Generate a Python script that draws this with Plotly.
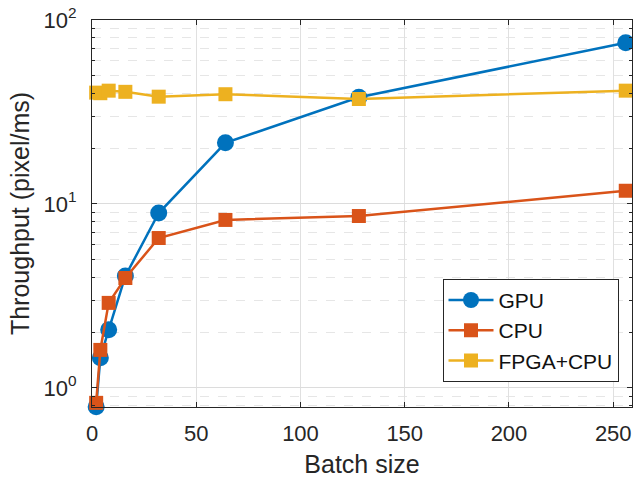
import plotly.graph_objects as go

batch = [2, 4, 8, 16, 32, 64, 128, 256]
gpu = [0.79, 1.46, 2.07, 4.06, 8.93, 21.5, 38.0, 75.3]
cpu = [0.83, 1.61, 2.90, 3.96, 6.53, 8.19, 8.6, 11.8]
fpga = [40.3, 40.0, 41.3, 40.7, 38.3, 39.5, 37.2, 41.3]

x_ticks = [0, 50, 100, 150, 200, 250]
y_ticks = [1, 10, 100]
y_ticktext = ["10<sup>0</sup>", "10<sup>1</sup>", "10<sup>2</sup>"]
y_minor = [m * d for d in [0.1, 1, 10] for m in range(2, 10)]

FONT = "Liberation Sans, Arial, sans-serif"
TXT = "#262626"

fig = go.Figure()
fig.add_trace(go.Scatter(x=batch, y=gpu, name="GPU", mode="lines+markers",
                         line=dict(color="#0072BD", width=2.5),
                         marker=dict(symbol="circle", size=17, color="#0072BD"),
                         cliponaxis=False))
fig.add_trace(go.Scatter(x=batch, y=cpu, name="CPU", mode="lines+markers",
                         line=dict(color="#D95319", width=2.5),
                         marker=dict(symbol="square", size=14, color="#D95319"),
                         cliponaxis=False))
fig.add_trace(go.Scatter(x=batch, y=fpga, name="FPGA+CPU", mode="lines+markers",
                         line=dict(color="#EDB120", width=2.5),
                         marker=dict(symbol="square", size=14, color="#EDB120"),
                         cliponaxis=False))

fig.update_layout(
    width=633, height=479,
    margin=dict(l=92, r=1, t=20, b=72),
    plot_bgcolor="white", paper_bgcolor="white",
    font=dict(family=FONT, size=22, color=TXT),
    showlegend=True,
    legend=dict(x=0.975, y=0.065, xanchor="right", yanchor="bottom",
                bgcolor="white", bordercolor="#262626", borderwidth=1,
                font=dict(size=21, color="#111111"),
                itemwidth=45, tracegroupgap=0),
)
fig.update_xaxes(
    range=[0, 259], tickvals=x_ticks, automargin=False,
    title=dict(text="Batch size", font=dict(size=25, color=TXT), standoff=10),
    showline=True, linecolor="#262626", linewidth=1, mirror="ticks",
    ticks="inside", ticklen=5, tickcolor="#262626", ticklabelstandoff=7,
    showgrid=True, gridcolor="#e0e0e0", gridwidth=1, zeroline=False,
    tickfont=dict(size=22, color=TXT),
)
fig.update_yaxes(
    type="log", range=[-0.1035, 2.0], automargin=False,
    tickvals=y_ticks, ticktext=y_ticktext,
    title=dict(text="Throughput (pixel/ms)", font=dict(size=25, color=TXT), standoff=6),
    showline=True, linecolor="#262626", linewidth=1, mirror="ticks",
    ticks="inside", ticklen=5, tickcolor="#262626", ticklabelstandoff=10,
    showgrid=True, gridcolor="#dcdcdc", gridwidth=1, zeroline=False,
    tickfont=dict(size=22, color=TXT),
    minor=dict(tickvals=y_minor, ticks="inside", ticklen=3, tickcolor="#262626",
               showgrid=True, gridcolor="#e6e6e6", griddash="dash", gridwidth=1),
)

fig.write_html("out.html")
